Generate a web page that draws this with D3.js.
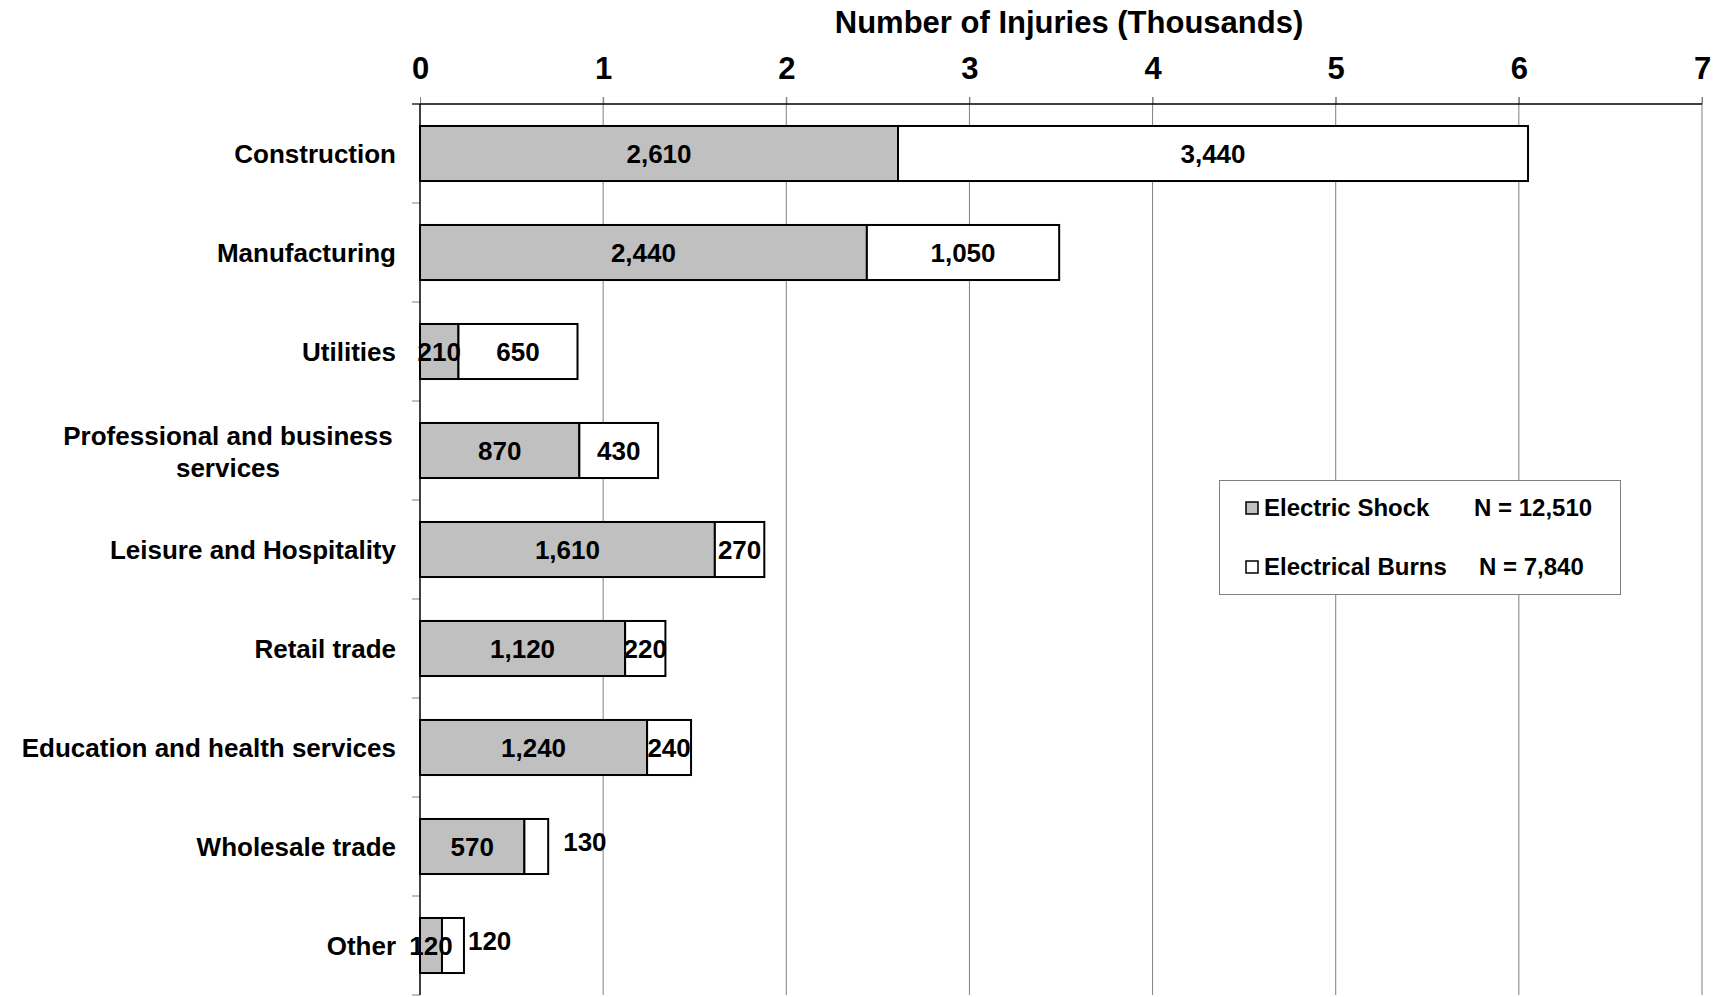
<!DOCTYPE html>
<html>
<head>
<meta charset="utf-8">
<script src="https://cdn.jsdelivr.net/npm/d3@7"></script>
<style>
  body { margin: 0; background: #fff; }
  text { font-family: "Liberation Sans", Arial, sans-serif; font-weight: bold; fill: #000; }
</style>
</head>
<body>
<script>
const categories = [
  "Construction",
  "Manufacturing",
  "Utilities",
  "Professional and business\nservices",
  "Leisure and Hospitality",
  "Retail trade",
  "Education and health services",
  "Wholesale trade",
  "Other",
];
const electricShock = [2610, 2440, 210, 870, 1610, 1120, 1240, 570, 120];
const electricalBurns = [3440, 1050, 650, 430, 270, 220, 240, 130, 120];
const seriesNames = ["Electric Shock", "Electrical Burns"];
const seriesTotals = ["N = 12,510", "N = 7,840"];
const xTicks = [0, 1, 2, 3, 4, 5, 6, 7];

// labels that were dragged outside the bar in the original
const burnLabelOutside = { "Wholesale trade": 15, "Other": 4 };

const width = 1722;
const height = 997;
const plotLeft = 420, plotRight = 1702, plotTop = 104, plotBottom = 995;

const svg = d3.select("body").append("svg")
  .attr("width", width)
  .attr("height", height);

const x = d3.scaleLinear().domain([0, 7]).range([plotLeft, plotRight]);
const y = d3.scaleBand().domain(categories).range([plotTop, plotBottom])
  .paddingInner(0.444).paddingOuter(0.222);

const rows = categories.map((c, i) => ({
  cat: c,
  shock: electricShock[i] / 1000,
  burn: electricalBurns[i] / 1000,
  shockLabel: d3.format(",")(electricShock[i]),
  burnLabel: d3.format(",")(electricalBurns[i]),
}));

// gridlines
svg.append("g").selectAll("line")
  .data(xTicks.slice(1))
  .enter().append("line")
  .attr("x1", d => x(d)).attr("x2", d => x(d))
  .attr("y1", plotTop - 7).attr("y2", plotBottom)
  .attr("stroke", "#808080").attr("stroke-width", 1);

// top axis
const xAxis = svg.append("g")
  .attr("transform", `translate(0,${plotTop})`)
  .call(d3.axisTop(x).tickValues(xTicks).tickSize(7).tickPadding(18).tickFormat(d3.format("d")));
xAxis.select(".domain").remove();
xAxis.selectAll(".tick line").attr("stroke", "#808080");
xAxis.selectAll("text").attr("font-size", 31).attr("font-family", "Liberation Sans, Arial, sans-serif");

svg.append("line")
  .attr("x1", plotLeft - 8).attr("x2", plotRight)
  .attr("y1", plotTop).attr("y2", plotTop)
  .attr("stroke", "#000").attr("stroke-width", 1.5);

// left axis: ticks at band boundaries
const boundaries = d3.range(categories.length + 1).map(i => plotTop + i * y.step());
svg.append("g").selectAll("line")
  .data(boundaries)
  .enter().append("line")
  .attr("x1", plotLeft - 8).attr("x2", plotLeft)
  .attr("y1", d => d).attr("y2", d => d)
  .attr("stroke", "#808080");
svg.append("line")
  .attr("x1", plotLeft).attr("x2", plotLeft)
  .attr("y1", plotTop).attr("y2", plotBottom)
  .attr("stroke", "#000").attr("stroke-width", 1.5);

// title
svg.append("text")
  .attr("x", 1069).attr("y", 33)
  .attr("text-anchor", "middle")
  .attr("font-size", 31)
  .text("Number of Injuries (Thousands)");

// category labels
const catLabels = svg.append("g").selectAll("text")
  .data(rows)
  .enter().append("text")
  .attr("font-size", 26)
  .attr("text-anchor", d => d.cat.includes("\n") ? "middle" : "end")
  .attr("y", d => y(d.cat) + y.bandwidth() / 2);
catLabels.each(function (d) {
  const lines = d.cat.split("\n");
  const t = d3.select(this);
  if (lines.length === 1) {
    t.attr("x", 396).attr("dy", "0.35em").text(lines[0]);
  } else {
    t.attr("x", 228);
    lines.forEach((l, i) => {
      t.append("tspan")
        .attr("x", 228)
        .attr("dy", i === 0 ? "-0.2em" : "1.2em")
        .text(l);
    });
  }
});

// bars
const bars = svg.append("g");
bars.selectAll("rect.shock")
  .data(rows)
  .enter().append("rect")
  .attr("class", "shock")
  .attr("x", x(0))
  .attr("y", d => y(d.cat))
  .attr("width", d => x(d.shock) - x(0))
  .attr("height", y.bandwidth())
  .attr("fill", "#c0c0c0")
  .attr("stroke", "#000").attr("stroke-width", 2);
bars.selectAll("rect.burn")
  .data(rows)
  .enter().append("rect")
  .attr("class", "burn")
  .attr("x", d => x(d.shock))
  .attr("y", d => y(d.cat))
  .attr("width", d => x(d.shock + d.burn) - x(d.shock))
  .attr("height", y.bandwidth())
  .attr("fill", "#fff")
  .attr("stroke", "#000").attr("stroke-width", 2);

// value labels
const labels = svg.append("g");
labels.selectAll("text.shock")
  .data(rows)
  .enter().append("text")
  .attr("class", "shock")
  .attr("x", d => (x(0) + x(d.shock)) / 2)
  .attr("y", d => y(d.cat) + y.bandwidth() / 2)
  .attr("dy", "0.35em")
  .attr("text-anchor", "middle")
  .attr("font-size", 26)
  .text(d => d.shockLabel);
labels.selectAll("text.burn")
  .data(rows)
  .enter().append("text")
  .attr("class", "burn")
  .attr("x", d => d.cat in burnLabelOutside
    ? x(d.shock + d.burn) + burnLabelOutside[d.cat]
    : (x(d.shock) + x(d.shock + d.burn)) / 2)
  .attr("y", d => y(d.cat) + y.bandwidth() / 2 - (d.cat in burnLabelOutside ? 5 : 0))
  .attr("dy", "0.35em")
  .attr("text-anchor", d => d.cat in burnLabelOutside ? "start" : "middle")
  .attr("font-size", 26)
  .text(d => d.burnLabel);

// legend
const legend = svg.append("g");
legend.append("rect")
  .attr("x", 1219.5).attr("y", 480.5)
  .attr("width", 401).attr("height", 114)
  .attr("fill", "#fff").attr("stroke", "#808080");
const legendRows = legend.selectAll("g.row")
  .data(seriesNames)
  .enter().append("g")
  .attr("class", "row")
  .attr("transform", (d, i) => `translate(0,${508 + i * 59})`);
legendRows.append("rect")
  .attr("x", 1246).attr("y", -6)
  .attr("width", 12).attr("height", 12)
  .attr("fill", (d, i) => i === 0 ? "#c0c0c0" : "#fff")
  .attr("stroke", "#000").attr("stroke-width", 1.5);
legendRows.append("text")
  .attr("x", 1264).attr("dy", "0.35em")
  .attr("font-size", 24)
  .text(d => d);
legendRows.append("text")
  .attr("x", (d, i) => i === 0 ? 1474 : 1479).attr("dy", "0.35em")
  .attr("font-size", 24)
  .text((d, i) => seriesTotals[i]);
</script>
</body>
</html>
